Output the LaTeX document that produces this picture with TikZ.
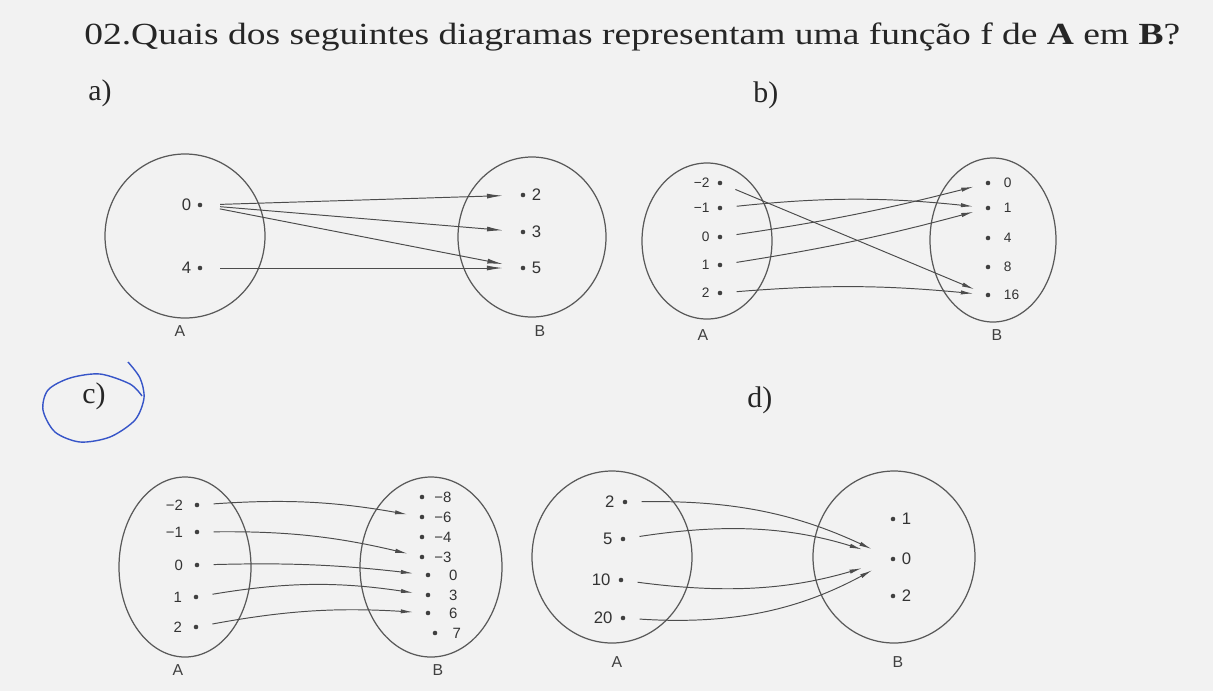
\documentclass[tikz,border=0pt]{standalone}
\usepackage{fontspec}
\setmainfont{Liberation Serif}
\newfontfamily\rotulo{Liberation Sans}
\usetikzlibrary{arrows.meta}
\definecolor{caneta}{RGB}{55,85,200}
\definecolor{papel}{RGB}{242,242,242}

\tikzset{
  elem/.style={circle, fill=black!75, inner sep=0pt, minimum size=2.6pt},
  conj/.style={draw=black!65, line width=0.7pt},
  seta/.style={draw=black!70, line width=0.55pt, -{Latex[length=7pt,width=2.4pt]},
    shorten <=8pt, shorten >=7pt},
  item/.style={font=\fontsize{17}{17}\selectfont, text=black!85},
  nome/.style={font=\rotulo\fontsize{9}{9}\selectfont, text=black!75},
}

\begin{document}
\begin{tikzpicture}[x=0.02cm, y=-0.02cm]
  \fill[papel] (0,0) rectangle (1213,691);
  \useasboundingbox (0,0) rectangle (1213,691);

  % enunciado
  \node[anchor=base west, inner sep=0pt, text=black!85, font=\fontsize{17.5}{19}\selectfont]
    (titulo) at (84,44) {\scalebox{1.22}[1]{02.Quais dos seguintes diagramas representam uma função f de \textbf{A} em \textbf{B}?}};
  \node[item, anchor=base west, inner sep=0pt] (ia) at (88,100) {a)};
  \node[item, anchor=base west, inner sep=0pt] (ib) at (753,102) {b)};
  \node[item, anchor=base west, inner sep=0pt] (ic) at (82,403) {c)};
  \node[item, anchor=base west, inner sep=0pt] (id) at (747,407) {d)};

  % marca a caneta
  \draw[caneta, line width=0.8pt] plot[smooth] coordinates {(128,362) (140,378) (144,398) (135,420)
    (110,437) (80,442) (55,432) (43,410) (48,390) (70,378) (100,374) (130,384) (142,396)};

  % diagrama a)
  \begin{scope}[every label/.style={font=\rotulo\fontsize{9.5}{10}\selectfont, text=black!80}]
    \draw[conj] (185,236) ellipse [x radius=80, y radius=82];
    \draw[conj] (532,237) ellipse [x radius=74, y radius=80];
    \node[nome] (nA1) at (180,331) {A};
    \node[nome] (nB1) at (540,331) {B};
    \node[elem, label=left:0] (a0) at (200,205) {};
    \node[elem, label=left:4] (a4) at (200,268) {};
    \node[elem, label=right:2] (b2) at (523,195) {};
    \node[elem, label=right:3] (b3) at (523,232) {};
    \node[elem, label=right:5] (b5) at (523,268) {};
    \begin{scope}[seta/.append style={-{Latex[length=9pt,width=2.8pt]}, shorten <=10pt, shorten >=10pt}]
      \draw[seta] (a0) -- (b2);
      \draw[seta] (a0) -- (b3);
      \draw[seta] (a0) -- (b5);
      \draw[seta] (a4) -- (b5);
    \end{scope}
  \end{scope}

  % diagrama b)
  \begin{scope}[every label/.style={font=\rotulo\fontsize{7.8}{8}\selectfont, text=black!80}]
    \draw[conj] (707,241) ellipse [x radius=65, y radius=78];
    \draw[conj] (993,240) ellipse [x radius=63, y radius=82];
    \node[nome] (nA2) at (703,335) {A};
    \node[nome] (nB2) at (997,335) {B};
    \node[elem, label={[label distance=1pt]left:−2}] (pm2) at (720,183) {};
    \node[elem, label={[label distance=1pt]left:−1}] (pm1) at (720,208) {};
    \node[elem, label={[label distance=1pt]left:0}] (p0) at (720,237) {};
    \node[elem, label={[label distance=1pt]left:1}] (p1) at (720,265) {};
    \node[elem, label={[label distance=1pt]left:2}] (p2) at (720,293) {};
    \node[elem, label={[label distance=4pt]right:0}] (q0) at (988,183) {};
    \node[elem, label={[label distance=4pt]right:1}] (q1) at (988,208) {};
    \node[elem, label={[label distance=4pt]right:4}] (q4) at (988,238) {};
    \node[elem, label={[label distance=4pt]right:8}] (q8) at (988,267) {};
    \node[elem, label={[label distance=4pt]right:16}] (q16) at (988,295) {};
    \draw[seta] (pm2) -- (q16);
    \draw[seta] (pm1) to[bend left=6] (q1);
    \draw[seta] (p0) to[bend right=3] (q0);
    \draw[seta] (p1) to[bend right=3] (q1);
    \draw[seta] (p2) to[bend left=5] (q16);
  \end{scope}

  % diagrama c)
  \begin{scope}[every label/.style={font=\rotulo\fontsize{8.5}{9}\selectfont, text=black!80}]
    \draw[conj] (185,567) ellipse [x radius=66, y radius=90];
    \draw[conj] (431,567) ellipse [x radius=71, y radius=90];
    \node[nome] (nA3) at (178,670) {A};
    \node[nome] (nB3) at (438,670) {B};
    \node[elem, label={[label distance=3pt]left:−2}] (cm2) at (197,505) {};
    \node[elem, label={[label distance=3pt]left:−1}] (cm1) at (197,532) {};
    \node[elem, label={[label distance=3pt]left:0}] (c0) at (197,565) {};
    \node[elem, label={[label distance=3pt]left:1}] (c1) at (196,597) {};
    \node[elem, label={[label distance=3pt]left:2}] (c2) at (196,627) {};
    \node[elem, label={[label distance=2pt]right:−8}] (dm8) at (422,497) {};
    \node[elem, label={[label distance=2pt]right:−6}] (dm6) at (422,517) {};
    \node[elem, label={[label distance=2pt]right:−4}] (dm4) at (422,537) {};
    \node[elem, label={[label distance=2pt]right:−3}] (dm3) at (422,557) {};
    \node[elem, label={[label distance=2pt]right:\phantom{−}0}] (d0) at (428,575) {};
    \node[elem, label={[label distance=2pt]right:\phantom{−}3}] (d3) at (428,595) {};
    \node[elem, label={[label distance=2pt]right:\phantom{−}6}] (d6) at (428,613) {};
    \node[elem, label={[label distance=0pt]right:\phantom{−}7}] (d7) at (435,633) {};
    \draw[seta] (cm2) to[bend left=7] (dm6);
    \draw[seta] (cm1) to[bend left=7] (dm3);
    \draw[seta] (c0) to[bend left=4] (d0);
    \draw[seta] (c1) to[bend left=9] (d3);
    \draw[seta] (c2) to[bend left=7] (d6);
  \end{scope}

  % diagrama d)
  \begin{scope}[every label/.style={font=\rotulo\fontsize{9.5}{10}\selectfont, text=black!80}]
    \draw[conj] (612,557) ellipse [x radius=80, y radius=86];
    \draw[conj] (894,557) ellipse [x radius=81, y radius=86];
    \node[nome] (nA4) at (617,662) {A};
    \node[nome] (nB4) at (898,662) {B};
    \node[elem, label={[label distance=1pt]left:2}] (e2) at (625,502) {};
    \node[elem, label={[label distance=1pt]left:5}] (e5) at (623,539) {};
    \node[elem, label={[label distance=1pt]left:10}] (e10) at (621,580) {};
    \node[elem, label={[label distance=1pt]left:20}] (e20) at (623,618) {};
    \node[elem, label=right:1] (f1) at (893,519) {};
    \node[elem, label=right:0] (f0) at (893,559) {};
    \node[elem, label=right:2] (f2) at (893,596) {};
    \draw[seta, shorten >=12pt] (e2) to[bend left=13] (f0);
    \draw[seta, shorten >=17pt] (e5) to[bend left=13] (f0);
    \draw[seta, shorten >=17pt] (e10) to[bend right=12] (f0);
    \draw[seta, shorten >=12pt] (e20) to[bend right=16] (f0);
  \end{scope}
\end{tikzpicture}
\end{document}
